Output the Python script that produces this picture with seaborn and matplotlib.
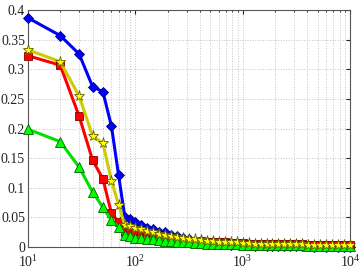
import numpy as np
import pandas as pd
import matplotlib
matplotlib.use("Agg")
import matplotlib.pyplot as plt
import matplotlib.ticker as mticker
import seaborn as sns

# x positions: 10..100 linear, then log spaced up to 1e4
n_vals = [10, 20, 30, 40, 50, 60, 70, 80, 90, 100,
          114, 129, 147, 167, 190, 215, 245, 278, 316, 359, 408, 464,
          527, 599, 681, 774, 880, 1000,
          1136, 1292, 1468, 1668, 1896, 2154, 2448, 2783, 3162, 3594,
          4084, 4642, 5275, 5995, 6813, 7743, 8799, 10000]

blue_vals = [0.387, 0.357, 0.326, 0.271, 0.262, 0.204, 0.121, 0.050, 0.047, 0.042,
             0.037, 0.032, 0.031, 0.026, 0.025, 0.020, 0.019, 0.015, 0.014, 0.011,
             0.010, 0.008, 0.008, 0.006, 0.006, 0.004, 0.005, 0.003,
             0.004, 0.002, 0.003, 0.002, 0.002, 0.001, 0.002, 0.001, 0.001, 0.001,
             0.001, 0.000, 0.001, 0.000, 0.001, 0.000, 0.000, 0.000]

red_vals = [0.323, 0.307, 0.221, 0.147, 0.115, 0.057, 0.042, 0.026, 0.025, 0.024,
            0.021, 0.019, 0.018, 0.016, 0.015, 0.014, 0.013, 0.012, 0.011, 0.010,
            0.010, 0.009, 0.009, 0.008, 0.008, 0.007, 0.007, 0.007,
            0.006, 0.006, 0.006, 0.006, 0.005, 0.005, 0.005, 0.005, 0.005, 0.005,
            0.004, 0.004, 0.004, 0.004, 0.004, 0.004, 0.004, 0.004]

green_vals = [0.199, 0.178, 0.135, 0.093, 0.067, 0.045, 0.034, 0.020, 0.018, 0.016,
              0.015, 0.014, 0.013, 0.012, 0.011, 0.010, 0.009, 0.009, 0.008, 0.007,
              0.007, 0.006, 0.006, 0.006, 0.005, 0.005, 0.005, 0.004,
              0.004, 0.004, 0.004, 0.003, 0.003, 0.003, 0.003, 0.003, 0.003, 0.003,
              0.002, 0.002, 0.002, 0.002, 0.002, 0.002, 0.002, 0.002]

yellow_vals = [0.333, 0.313, 0.255, 0.188, 0.175, 0.112, 0.071, 0.037, 0.036, 0.032,
               0.030, 0.027, 0.025, 0.022, 0.020, 0.018, 0.017, 0.015, 0.014, 0.013,
               0.012, 0.011, 0.010, 0.009, 0.009, 0.008, 0.008, 0.007,
               0.007, 0.006, 0.006, 0.006, 0.006, 0.005, 0.005, 0.005, 0.005, 0.005,
               0.004, 0.004, 0.004, 0.004, 0.004, 0.004, 0.004, 0.004]

series = [
    ("blue", blue_vals, "D", "#0000ff", "#0000ff", "#000080", 5.5),
    ("red", red_vals, "s", "#ff0000", "#ff0000", "#800000", 6),
    ("green", green_vals, "^", "#00e000", "#00ff00", "#006000", 6.5),
    ("yellow", yellow_vals, "*", "#cccc00", "#ffff00", "#606000", 8),
]

sns.set_style("white")
plt.rcParams["font.family"] = ["Liberation Serif", "DejaVu Serif"]
plt.rcParams["mathtext.fontset"] = "custom"
plt.rcParams["mathtext.rm"] = "Liberation Serif"
plt.rcParams["mathtext.it"] = "Liberation Serif"

fig, ax = plt.subplots(figsize=(3.62, 2.73), dpi=100)
fig.subplots_adjust(left=0.077, right=0.967, bottom=0.095, top=0.963)

for name, vals, mk, lc, fc, ec, ms in series:
    df = pd.DataFrame({"n": n_vals, "v": vals})
    sns.lineplot(data=df, x="n", y="v", ax=ax, color=lc, linewidth=2.2,
                 marker=mk, markersize=ms, markerfacecolor=fc,
                 markeredgecolor=ec, markeredgewidth=0.6, sort=False,
                 clip_on=False, zorder=3)

ax.set_xscale("log")
ax.set_xlim(10, 10000)
ax.set_ylim(0, 0.4)
ax.set_yticks(np.arange(0, 0.41, 0.05))
ax.set_yticklabels(["0", "0.05", "0.1", "0.15", "0.2", "0.25", "0.3", "0.35", "0.4"])
ax.xaxis.set_major_locator(mticker.LogLocator(base=10, numticks=10))
ax.xaxis.set_minor_locator(mticker.LogLocator(base=10, subs=np.arange(2, 10), numticks=20))
ax.xaxis.set_minor_formatter(mticker.NullFormatter())
ax.set_xlabel("")
ax.set_ylabel("")

ax.grid(True, which="major", axis="both", color="#c4c4c4", linestyle=":", linewidth=0.7)
ax.grid(True, which="minor", axis="x", color="#c4c4c4", linestyle=":", linewidth=0.7)
ax.set_axisbelow(True)

ax.tick_params(which="both", direction="in", top=True, right=True, labelsize=10,
               colors="#222222", length=3, pad=2)
ax.tick_params(axis="x", which="major", pad=5.2)
ax.tick_params(which="minor", length=1.5)
for sp in ax.spines.values():
    sp.set_color("#555555")
    sp.set_linewidth(0.8)

fig.savefig("out.png", dpi=100)
